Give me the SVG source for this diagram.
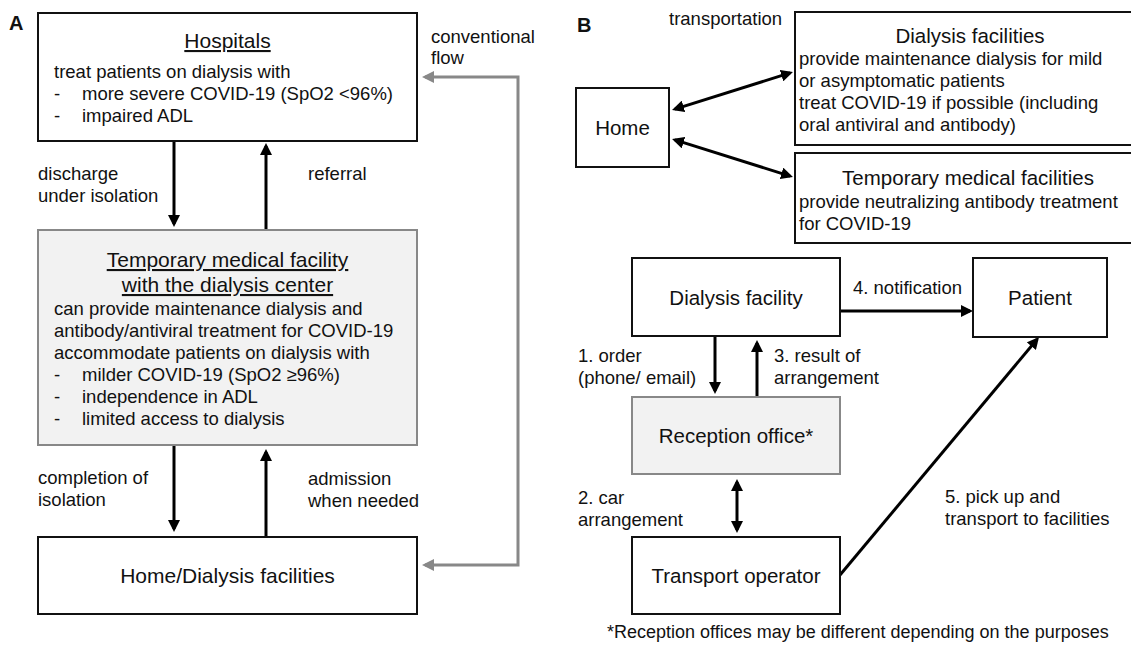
<svg xmlns="http://www.w3.org/2000/svg" width="1131" height="646" viewBox="0 0 1131 646">
<style>
text{font-family:"Liberation Sans",Arial,sans-serif;fill:#111;}
.t{font-size:21px;}
.tb{font-size:20.5px;}
.b{font-size:18.5px;}
.lbl{font-size:18.5px;}
.u{text-decoration:underline;}
.mid{text-anchor:middle;}
.box{fill:#fff;stroke:#111;stroke-width:2;}
.gbox{fill:#f2f2f2;stroke:#888;stroke-width:2;}
.pl{font-size:20px;font-weight:bold;}
.c{fill:none;stroke:#000;stroke-width:3;}
.g{fill:none;stroke:#888;stroke-width:3;}
</style>
<defs>
<marker id="ah" markerUnits="userSpaceOnUse" markerWidth="12" markerHeight="12" refX="9" refY="6" orient="auto-start-reverse"><path d="M0,0 L12,6 L0,12 z" fill="#000"/></marker>
<marker id="ag" markerUnits="userSpaceOnUse" markerWidth="12" markerHeight="12" refX="9" refY="6" orient="auto-start-reverse"><path d="M0,0 L12,6 L0,12 z" fill="#888"/></marker>
</defs>
<rect width="1131" height="646" fill="#fff"/>
<text class="pl" x="9" y="30">A</text>
<text class="pl" x="577" y="32">B</text>
<g id="connectors">
<path class="c" d="M174 141 V224" marker-end="url(#ah)"/>
<path class="c" d="M266 230 V146" marker-end="url(#ah)"/>
<path class="c" d="M174 445 V529" marker-end="url(#ah)"/>
<path class="c" d="M266 537 V452" marker-end="url(#ah)"/>
<path class="g" d="M425 77 H518 V565 H425" marker-start="url(#ag)" marker-end="url(#ag)"/>
<path class="c" d="M674.9 109.1 L790.1 72.9" marker-start="url(#ah)" marker-end="url(#ah)"/>
<path class="c" d="M674.9 139.9 L790.1 176.1" marker-start="url(#ah)" marker-end="url(#ah)"/>
<path class="c" d="M841 311 H970" marker-end="url(#ah)"/>
<path class="c" d="M715 336 V391" marker-end="url(#ah)"/>
<path class="c" d="M757 397 V343" marker-end="url(#ah)"/>
<path class="c" d="M737 482 V530" marker-start="url(#ah)" marker-end="url(#ah)"/>
<path class="c" d="M840 575 L1037.1 339.3" marker-end="url(#ah)"/>
<text class="lbl" x="38" y="180">discharge</text>
<text class="lbl" x="38" y="202">under isolation</text>
<text class="lbl" x="308" y="180">referral</text>
<text class="lbl" x="38" y="484">completion of</text>
<text class="lbl" x="38" y="506">isolation</text>
<text class="lbl" x="308" y="485">admission</text>
<text class="lbl" x="308" y="507">when needed</text>
<text class="lbl" x="431" y="43">conventional</text>
<text class="lbl" x="431" y="64">flow</text>
<text class="lbl" x="669" y="25">transportation</text>
<text class="lbl" x="853" y="294">4. notification</text>
<text class="lbl" x="578" y="362">1. order</text>
<text class="lbl" x="578" y="384">(phone/ email)</text>
<text class="lbl" x="774" y="362">3. result of</text>
<text class="lbl" x="774" y="384">arrangement</text>
<text class="lbl" x="578" y="504">2. car</text>
<text class="lbl" x="578" y="526">arrangement</text>
<text class="lbl" x="945" y="503">5. pick up and</text>
<text class="lbl" x="945" y="525">transport to facilities</text>
</g>
<g id="hospitals">
<rect class="box" x="38" y="13" width="379" height="128"/>
<text class="t u mid" x="227.5" y="48">Hospitals</text>
<text class="b" x="54" y="78">treat patients on dialysis with</text>
<text class="b" x="54" y="100">-</text><text class="b" x="82" y="100">more severe COVID-19 (SpO2 &lt;96%)</text>
<text class="b" x="54" y="122">-</text><text class="b" x="82" y="122">impaired ADL</text>
</g>
<g id="temp-facility">
<rect class="gbox" x="38" y="230" width="379" height="215"/>
<text class="t u mid" x="227.5" y="267">Temporary medical facility</text>
<text class="t u mid" x="227.5" y="292">with the dialysis center</text>
<text class="b" x="54" y="315">can provide maintenance dialysis and</text>
<text class="b" x="54" y="337">antibody/antiviral treatment for COVID-19</text>
<text class="b" x="54" y="359">accommodate patients on dialysis with</text>
<text class="b" x="54" y="381">-</text><text class="b" x="82" y="381">milder COVID-19 (SpO2 ≥96%)</text>
<text class="b" x="54" y="403">-</text><text class="b" x="82" y="403">independence in ADL</text>
<text class="b" x="54" y="425">-</text><text class="b" x="82" y="425">limited access to dialysis</text>
</g>
<g id="home-dialysis">
<rect class="box" x="38" y="537" width="379" height="77"/>
<text class="t mid" x="227.5" y="583">Home/Dialysis facilities</text>
</g>
<g id="home">
<rect class="box" x="576" y="88" width="93" height="79"/>
<text class="tb mid" x="622.5" y="135">Home</text>
</g>
<g id="dialysis-facilities">
<rect class="box" x="795" y="12" width="360" height="133"/>
<text class="tb mid" x="970" y="43">Dialysis facilities</text>
<text class="b" x="799" y="65">provide maintenance dialysis for mild</text>
<text class="b" x="799" y="87">or asymptomatic patients</text>
<text class="b" x="799" y="109">treat COVID-19 if possible (including</text>
<text class="b" x="799" y="131">oral antiviral and antibody)</text>
</g>
<g id="temporary-medical-facilities">
<rect class="box" x="795" y="153" width="360" height="90"/>
<text class="tb mid" x="968" y="185">Temporary medical facilities</text>
<text class="b" x="799" y="208">provide neutralizing antibody treatment</text>
<text class="b" x="799" y="230">for COVID-19</text>
</g>
<g id="dialysis-facility">
<rect class="box" x="632" y="258" width="208" height="78"/>
<text class="tb mid" x="736" y="305">Dialysis facility</text>
</g>
<g id="patient">
<rect class="box" x="973" y="258" width="134" height="79"/>
<text class="tb mid" x="1040" y="305">Patient</text>
</g>
<g id="reception-office">
<rect class="gbox" x="632" y="397" width="208" height="77"/>
<text class="tb mid" x="736" y="443">Reception office*</text>
</g>
<g id="transport-operator">
<rect class="box" x="632" y="537" width="208" height="77"/>
<text class="tb mid" x="736" y="583">Transport operator</text>
</g>
<text style="font-size:18px" x="607" y="638">*Reception offices may be different depending on the purposes</text>
</svg>
